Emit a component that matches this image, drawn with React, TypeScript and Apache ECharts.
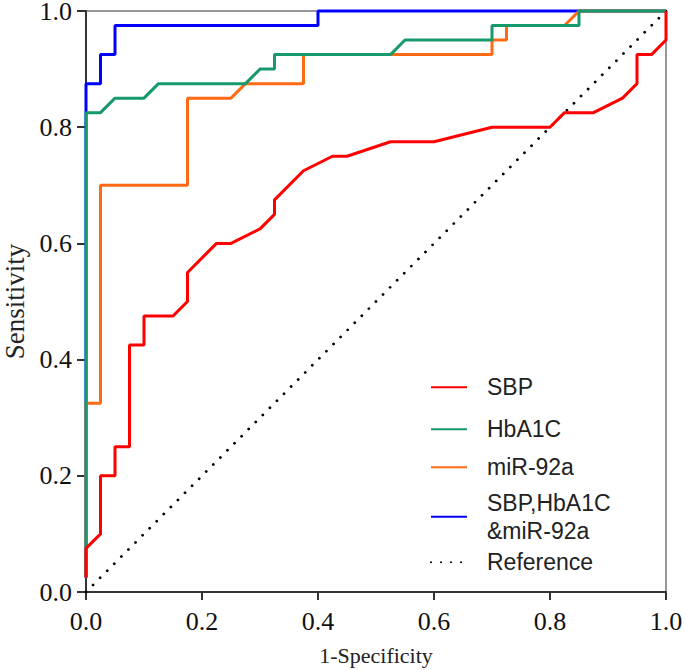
import React, { useEffect, useRef } from 'react';
import * as echarts from 'echarts';

// SBP ROC curve (1-Specificity, Sensitivity)
const sbpX = [0, 0, 0.025, 0.025, 0.05, 0.05, 0.075, 0.075, 0.1, 0.1, 0.15, 0.175, 0.175, 0.225, 0.25, 0.3, 0.325, 0.325, 0.375, 0.425, 0.45, 0.525, 0.6, 0.7, 0.8, 0.825, 0.875, 0.925, 0.95, 0.95, 0.975, 1.0, 1.0];
const sbpY = [0.025, 0.075, 0.1, 0.2, 0.2, 0.25, 0.25, 0.425, 0.425, 0.475, 0.475, 0.5, 0.55, 0.6, 0.6, 0.625, 0.65, 0.675, 0.725, 0.75, 0.75, 0.775, 0.775, 0.8, 0.8, 0.825, 0.825, 0.85, 0.875, 0.925, 0.925, 0.95, 1.0];

// HbA1C ROC curve
const hbX = [0, 0, 0.025, 0.05, 0.1, 0.125, 0.275, 0.3, 0.325, 0.325, 0.525, 0.55, 0.7, 0.7, 0.85, 0.85, 1.0];
const hbY = [0.025, 0.825, 0.825, 0.85, 0.85, 0.875, 0.875, 0.9, 0.9, 0.925, 0.925, 0.95, 0.95, 0.975, 0.975, 1.0, 1.0];

// miR-92a ROC curve
const mirX = [0, 0, 0.025, 0.025, 0.175, 0.175, 0.25, 0.275, 0.375, 0.375, 0.7, 0.7, 0.725, 0.725, 0.825, 0.85, 1.0];
const mirY = [0.025, 0.325, 0.325, 0.7, 0.7, 0.85, 0.85, 0.875, 0.875, 0.925, 0.925, 0.95, 0.95, 0.975, 0.975, 1.0, 1.0];

// Combined SBP, HbA1C & miR-92a ROC curve
const combX = [0, 0, 0.025, 0.025, 0.05, 0.05, 0.4, 0.4, 1.0];
const combY = [0.025, 0.875, 0.875, 0.925, 0.925, 0.975, 0.975, 1.0, 1.0];

// Reference diagonal
const refX = [0, 1];
const refY = [0, 1];

const seriesNames = ['SBP', 'HbA1C', 'miR-92a', 'SBP,HbA1C\n&miR-92a', 'Reference'];
const seriesColors = ['#FF0000', '#16996B', '#FF6A14', '#0000FF', '#000000'];

const zip = (xs: number[], ys: number[]) => xs.map((x, i) => [x, ys[i]]);

export default function App() {
  const ref = useRef<HTMLDivElement>(null);

  useEffect(() => {
    if (!ref.current) return;
    const chart = echarts.init(ref.current, null, { renderer: 'svg' });

    const serif = 'Liberation Serif, Times New Roman, serif';
    const sans = 'Liberation Sans, Arial, sans-serif';

    const legendCenters = [387.3, 429.3, 467.3, 516.7, 562.3];
    const legendLine = 28;
    const legends = seriesNames.map((name, i) => {
      const lines = name.split('\n').length;
      return {
        data: [name],
        left: 430,
        top: legendCenters[i] - (lines * legendLine) / 2,
        orient: 'vertical',
        padding: 0,
        itemWidth: 36,
        itemHeight: 14,
        selectedMode: false,
        itemStyle: { opacity: 0 },
        textStyle: {
          fontFamily: sans,
          fontSize: 23,
          color: '#222',
          lineHeight: legendLine,
          padding: [0, 0, 0, 15],
        },
      };
    });

    const mk = (name: string, data: number[][], color: string, extra: any = {}) => ({
      name,
      type: 'line',
      data,
      symbol: 'none',
      clip: false,
      lineStyle: { color, width: 3, ...extra },
      itemStyle: { color },
    });

    const option: any = {
      animation: false,
      grid: {
        left: 86,
        right: 19,
        top: 11,
        bottom: 78,
        outerBoundsMode: 'none',
        containLabel: false,
        show: true,
        borderColor: '#777',
        borderWidth: 1.5,
        backgroundColor: 'transparent',
      },
      legend: legends,
      xAxis: {
        type: 'value',
        min: 0,
        max: 1,
        interval: 0.2,
        name: '1-Specificity',
        nameLocation: 'middle',
        nameGap: 52,
        nameTextStyle: { fontFamily: serif, fontSize: 22, color: '#222' },
        axisLine: { show: true, lineStyle: { color: '#333', width: 2 } },
        axisTick: { show: true, inside: false, length: 8, lineStyle: { color: '#333', width: 2 } },
        axisLabel: {
          fontFamily: serif,
          fontSize: 26,
          color: '#111',
          margin: 16,
          formatter: (v: number) => v.toFixed(1),
        },
        splitLine: { show: false },
      },
      yAxis: {
        type: 'value',
        min: 0,
        max: 1,
        interval: 0.2,
        name: 'Sensitivity',
        nameLocation: 'middle',
        nameGap: 57,
        nameTextStyle: { fontFamily: serif, fontSize: 27, lineHeight: 26, color: '#222' },
        axisLine: { show: true, lineStyle: { color: '#333', width: 2 } },
        axisTick: { show: true, inside: false, length: 9, lineStyle: { color: '#333', width: 2 } },
        axisLabel: {
          fontFamily: serif,
          fontSize: 26,
          lineHeight: 22,
          color: '#111',
          margin: 14,
          formatter: (v: number) => v.toFixed(1),
        },
        splitLine: { show: false },
      },
      series: [
        mk(seriesNames[4], zip(refX, refY), seriesColors[4], { width: 2.8, type: [0.01, 10], cap: 'round' }),
        mk(seriesNames[3], zip(combX, combY), seriesColors[3]),
        mk(seriesNames[2], zip(mirX, mirY), seriesColors[2]),
        mk(seriesNames[1], zip(hbX, hbY), seriesColors[1]),
        mk(seriesNames[0], zip(sbpX, sbpY), seriesColors[0]),
      ],
    };

    chart.setOption(option);
    return () => chart.dispose();
  }, []);

  return (
    <div
      ref={ref}
      style={{ position: 'absolute', left: 0, top: 0, width: 685, height: 670 }}
    />
  );
}
